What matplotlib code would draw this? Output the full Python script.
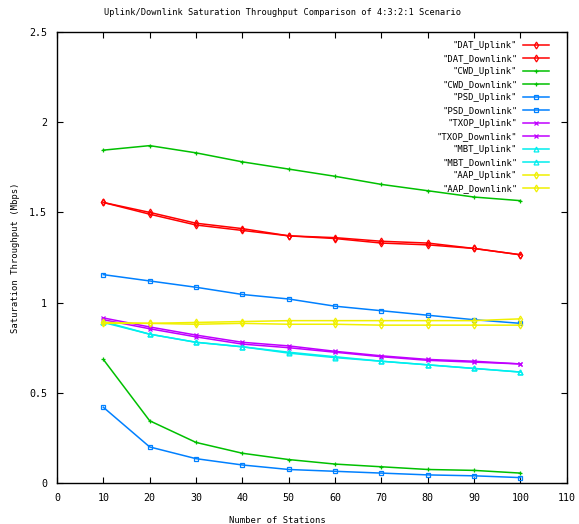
import matplotlib
matplotlib.use("Agg")
import matplotlib.pyplot as plt

# data
stations = [10, 20, 30, 40, 50, 60, 70, 80, 90, 100]

dat_up = [1.555, 1.50, 1.44, 1.41, 1.37, 1.36, 1.34, 1.33, 1.30, 1.265]
dat_down = [1.555, 1.49, 1.43, 1.40, 1.37, 1.355, 1.33, 1.32, 1.30, 1.265]
cwd_up = [1.845, 1.87, 1.83, 1.78, 1.74, 1.70, 1.655, 1.62, 1.585, 1.565]
cwd_down = [0.685, 0.345, 0.225, 0.165, 0.13, 0.105, 0.09, 0.075, 0.07, 0.055]
psd_up = [1.155, 1.12, 1.085, 1.045, 1.02, 0.98, 0.955, 0.93, 0.905, 0.885]
psd_down = [0.42, 0.20, 0.135, 0.10, 0.075, 0.065, 0.055, 0.045, 0.04, 0.03]
txop_up = [0.915, 0.865, 0.82, 0.78, 0.76, 0.73, 0.705, 0.685, 0.675, 0.66]
txop_down = [0.905, 0.855, 0.81, 0.77, 0.75, 0.725, 0.70, 0.68, 0.67, 0.66]
mbt_up = [0.895, 0.825, 0.78, 0.755, 0.725, 0.70, 0.675, 0.655, 0.635, 0.615]
mbt_down = [0.89, 0.825, 0.78, 0.755, 0.72, 0.695, 0.675, 0.655, 0.635, 0.615]
aap_up = [0.89, 0.885, 0.89, 0.895, 0.90, 0.90, 0.90, 0.90, 0.90, 0.91]
aap_down = [0.885, 0.885, 0.88, 0.885, 0.88, 0.88, 0.875, 0.875, 0.875, 0.875]

series = [
    ('"DAT_Uplink"', dat_up, '#ff0000', 'd'),
    ('"DAT_Downlink"', dat_down, '#ff0000', 'd'),
    ('"CWD_Uplink"', cwd_up, '#00c000', '+'),
    ('"CWD_Downlink"', cwd_down, '#00c000', '+'),
    ('"PSD_Uplink"', psd_up, '#0080ff', 's'),
    ('"PSD_Downlink"', psd_down, '#0080ff', 's'),
    ('"TXOP_Uplink"', txop_up, '#c000ff', 'x'),
    ('"TXOP_Downlink"', txop_down, '#c000ff', 'x'),
    ('"MBT_Uplink"', mbt_up, '#00eeee', '^'),
    ('"MBT_Downlink"', mbt_down, '#00eeee', '^'),
    ('"AAP_Uplink"', aap_up, '#f0f000', 'd'),
    ('"AAP_Downlink"', aap_down, '#f0f000', 'd'),
]

plt.rcParams['font.family'] = 'DejaVu Sans Mono'
plt.rcParams['font.size'] = 6.4

fig = plt.figure(figsize=(5.79, 5.24), dpi=100)
ax = fig.add_axes([0.0984, 0.0782, 0.8806, 0.8608])

for label, vals, color, marker in series:
    ax.plot(stations, vals, color=color, marker=marker, markersize=3.5,
            markerfacecolor='none', markeredgecolor=color, markeredgewidth=0.9,
            linewidth=1.1, label=label)

ax.set_xlim(0, 110)
ax.set_ylim(0, 2.5)
ax.set_xticks(range(0, 111, 10))
ax.set_yticks([0, 0.5, 1, 1.5, 2, 2.5])
ax.set_yticklabels(['0', '0.5', '1', '1.5', '2', '2.5'])
ax.tick_params(direction='in', top=True, right=True, length=4, width=0.8,
               labelsize=7.2, pad=7)
for s in ax.spines.values():
    s.set_linewidth(1.0)

ax.set_xlabel("Number of Stations")
ax.xaxis.set_label_coords(0.433, -0.073)
ax.set_ylabel("Saturation Throughput (Mbps)")
ax.yaxis.set_label_coords(-0.0725, 0.5)
ax.set_title("Uplink/Downlink Saturation Throughput Comparison of 4:3:2:1 Scenario",
             fontsize=6.2, x=0.443, pad=12)

ax.legend(loc='upper right', bbox_to_anchor=(0.99, 1.007), frameon=False,
          markerfirst=False, handlelength=3.0, labelspacing=0.45,
          borderaxespad=1.2, borderpad=0.2, handletextpad=0.6, fontsize=6.4)

fig.savefig("out.png", dpi=100)
